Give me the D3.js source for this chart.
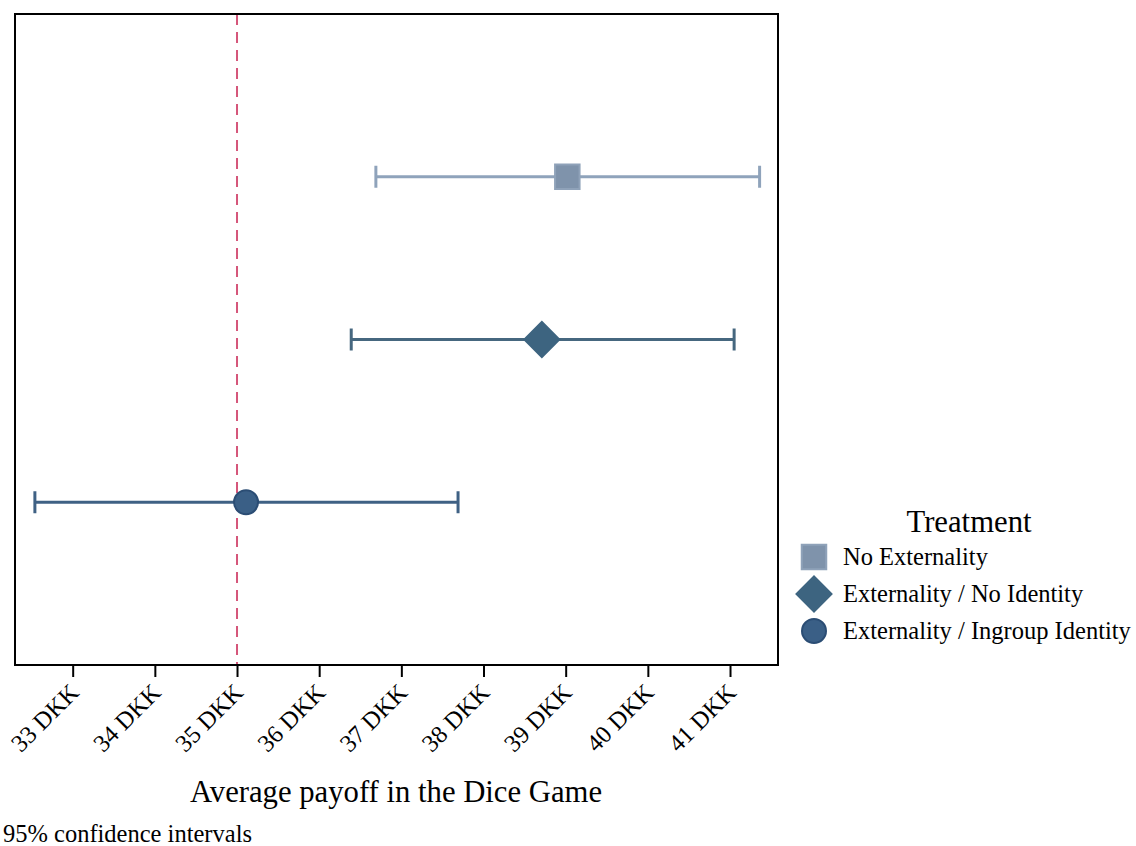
<!DOCTYPE html>
<html><head><meta charset="utf-8">
<script src="https://cdn.jsdelivr.net/npm/d3@7"></script>
<style>body{margin:0;background:#fff}svg{display:block}text{font-family:"Liberation Serif","Times New Roman",serif;fill:#000}</style>
</head><body><svg id="c" width="1136" height="846"></svg>
<script>
const categories = ["No Externality", "Externality / No Identity", "Externality / Ingroup Identity"];
const means = [39.02, 38.71, 35.11];
const lowerCI = [36.69, 36.39, 32.54];
const upperCI = [41.36, 41.05, 37.69];
const tickValues = [33, 34, 35, 36, 37, 38, 39, 40, 41];
const tickLabels = ["33 DKK","34 DKK","35 DKK","36 DKK","37 DKK","38 DKK","39 DKK","40 DKK","41 DKK"];
const refValue = 35;

const markerFill = ["#7f93ab", "#3d6480", "#3a5f86"];
const markerStroke = ["#8fa2b9", "#3d6480", "#2b4d74"];
const lineColor = ["#8fa3bb", "#46677f", "#3f6184"];
const shapes = [d3.symbolSquare, d3.symbolSquare, d3.symbolCircle];
const rotations = [0, 45, 0];
const sizes = [600, 612, 452];

const svg = d3.select("#c");
const L = 15, T = 14, R = 778, B = 665;
const x = d3.scaleLinear().domain([32.298, 41.584]).range([L, R]);
const y = d3.scaleLinear().domain([0, 4]).range([T, B]);

// reference line
svg.append("line").attr("x1", x(refValue)).attr("x2", x(refValue)).attr("y1", T).attr("y2", B)
  .attr("stroke", "#d5567a").attr("stroke-width", 2).attr("stroke-dasharray", "11,7");

const g = svg.selectAll("g.s").data(categories).join("g");
g.each(function(d, i) {
  const s = d3.select(this), yy = y(i + 1);
  s.append("line").attr("x1", x(lowerCI[i])).attr("x2", x(upperCI[i])).attr("y1", yy).attr("y2", yy)
    .attr("stroke", lineColor[i]).attr("stroke-width", 3);
  [lowerCI[i], upperCI[i]].forEach(v => s.append("line").attr("x1", x(v)).attr("x2", x(v))
    .attr("y1", yy - 11).attr("y2", yy + 11).attr("stroke", lineColor[i]).attr("stroke-width", 3));
  s.append("path").attr("d", d3.symbol(shapes[i], sizes[i])())
    .attr("transform", `translate(${x(means[i])},${yy}) rotate(${rotations[i]})`)
    .attr("fill", markerFill[i]).attr("stroke", markerStroke[i]).attr("stroke-width", 2);
});

// frame
svg.append("rect").attr("x", L).attr("y", T).attr("width", R - L).attr("height", B - T)
  .attr("fill", "none").attr("stroke", "#000").attr("stroke-width", 2);

// axis
const ax = svg.append("g").attr("transform", `translate(0,${B})`)
  .call(d3.axisBottom(x).tickValues(tickValues).tickFormat((d, i) => tickLabels[i]).tickSize(12).tickSizeOuter(0));
ax.select(".domain").remove();
ax.selectAll(".tick line").attr("stroke", "#000").attr("stroke-width", 2);
ax.selectAll(".tick text").attr("font-size", 24.5).attr("font-family", "Liberation Serif")
  .attr("text-anchor", "end").attr("dy", 0).attr("y", 0)
  .attr("transform", "translate(7,29) rotate(-45)");

svg.append("text").attr("x", 396).attr("y", 802).attr("text-anchor", "middle").attr("font-size", 30.7)
  .text("Average payoff in the Dice Game");
svg.append("text").attr("x", 3).attr("y", 842).attr("font-size", 24.5).text("95% confidence intervals");

// legend
svg.append("text").attr("x", 969).attr("y", 532).attr("text-anchor", "middle").attr("font-size", 30.7).text("Treatment");
const lg = svg.selectAll("g.lg").data(categories).join("g")
  .attr("transform", (d, i) => `translate(814,${557 + i * 37})`);
lg.append("path").attr("d", (d, i) => d3.symbol(shapes[i], sizes[i])())
  .attr("transform", (d, i) => `rotate(${rotations[i]})`)
  .attr("fill", (d, i) => markerFill[i])
  .attr("stroke", (d, i) => markerStroke[i]).attr("stroke-width", 2);
lg.append("text").attr("x", 29).attr("y", 8).attr("font-size", 24.5).text(d => d);
</script></body></html>
